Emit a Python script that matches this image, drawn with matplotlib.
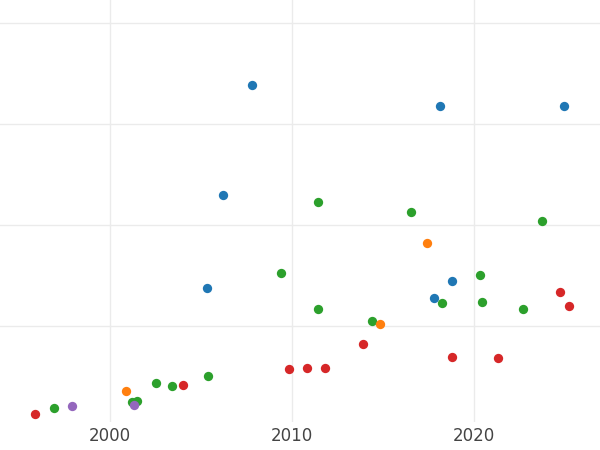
import matplotlib
matplotlib.use("Agg")
import matplotlib.pyplot as plt

# points per group (year, value)
blue_x = [2007.8, 2018.13, 2024.9, 2006.2, 2005.3, 2018.8, 2017.8]
blue_y = [3.39, 3.18, 3.18, 2.30, 1.38, 1.45, 1.28]
green_x = [2011.4, 2016.5, 2023.7, 2009.4, 2020.3, 2011.4, 2018.2, 2020.4, 2022.7,
           2014.4, 2005.4, 2002.5, 2003.4, 2001.5, 2001.2, 1996.9]
green_y = [2.23, 2.13, 2.04, 1.53, 1.51, 1.17, 1.23, 1.24, 1.17,
           1.05, 0.51, 0.44, 0.41, 0.26, 0.25, 0.19]
orange_x = [2017.4, 2014.8, 2000.9]
orange_y = [1.82, 1.02, 0.36]
red_x = [2024.7, 2025.2, 2013.9, 2018.8, 2021.3, 2009.8, 2010.8, 2011.8, 2004.0, 1995.9]
red_y = [1.34, 1.20, 0.82, 0.69, 0.68, 0.58, 0.59, 0.59, 0.42, 0.13]
purple_x = [1997.9, 2001.3]
purple_y = [0.21, 0.22]

fig = plt.figure(figsize=(6, 4.5), dpi=100)
ax = fig.add_axes([0, 0.062, 1, 0.938])

for xs, ys, c in [(blue_x, blue_y, 'tab:blue'), (green_x, green_y, 'tab:green'),
                  (orange_x, orange_y, 'tab:orange'), (red_x, red_y, 'tab:red'),
                  (purple_x, purple_y, 'tab:purple')]:
    ax.scatter(xs, ys, color=c, s=45, zorder=3, linewidths=0)

ax.set_xlim(1993.96, 2026.9)
ax.set_ylim(0.05, 4.23)
ax.set_xticks([2000, 2010, 2020])
ax.set_yticks([1, 2, 3, 4])
ax.set_yticklabels([])
ax.grid(True, color='#ebebeb', linewidth=1)
ax.set_axisbelow(True)
for s in ax.spines.values():
    s.set_visible(False)
ax.tick_params(length=0, labelsize=12, labelcolor='#444444')

fig.savefig('out.png')
